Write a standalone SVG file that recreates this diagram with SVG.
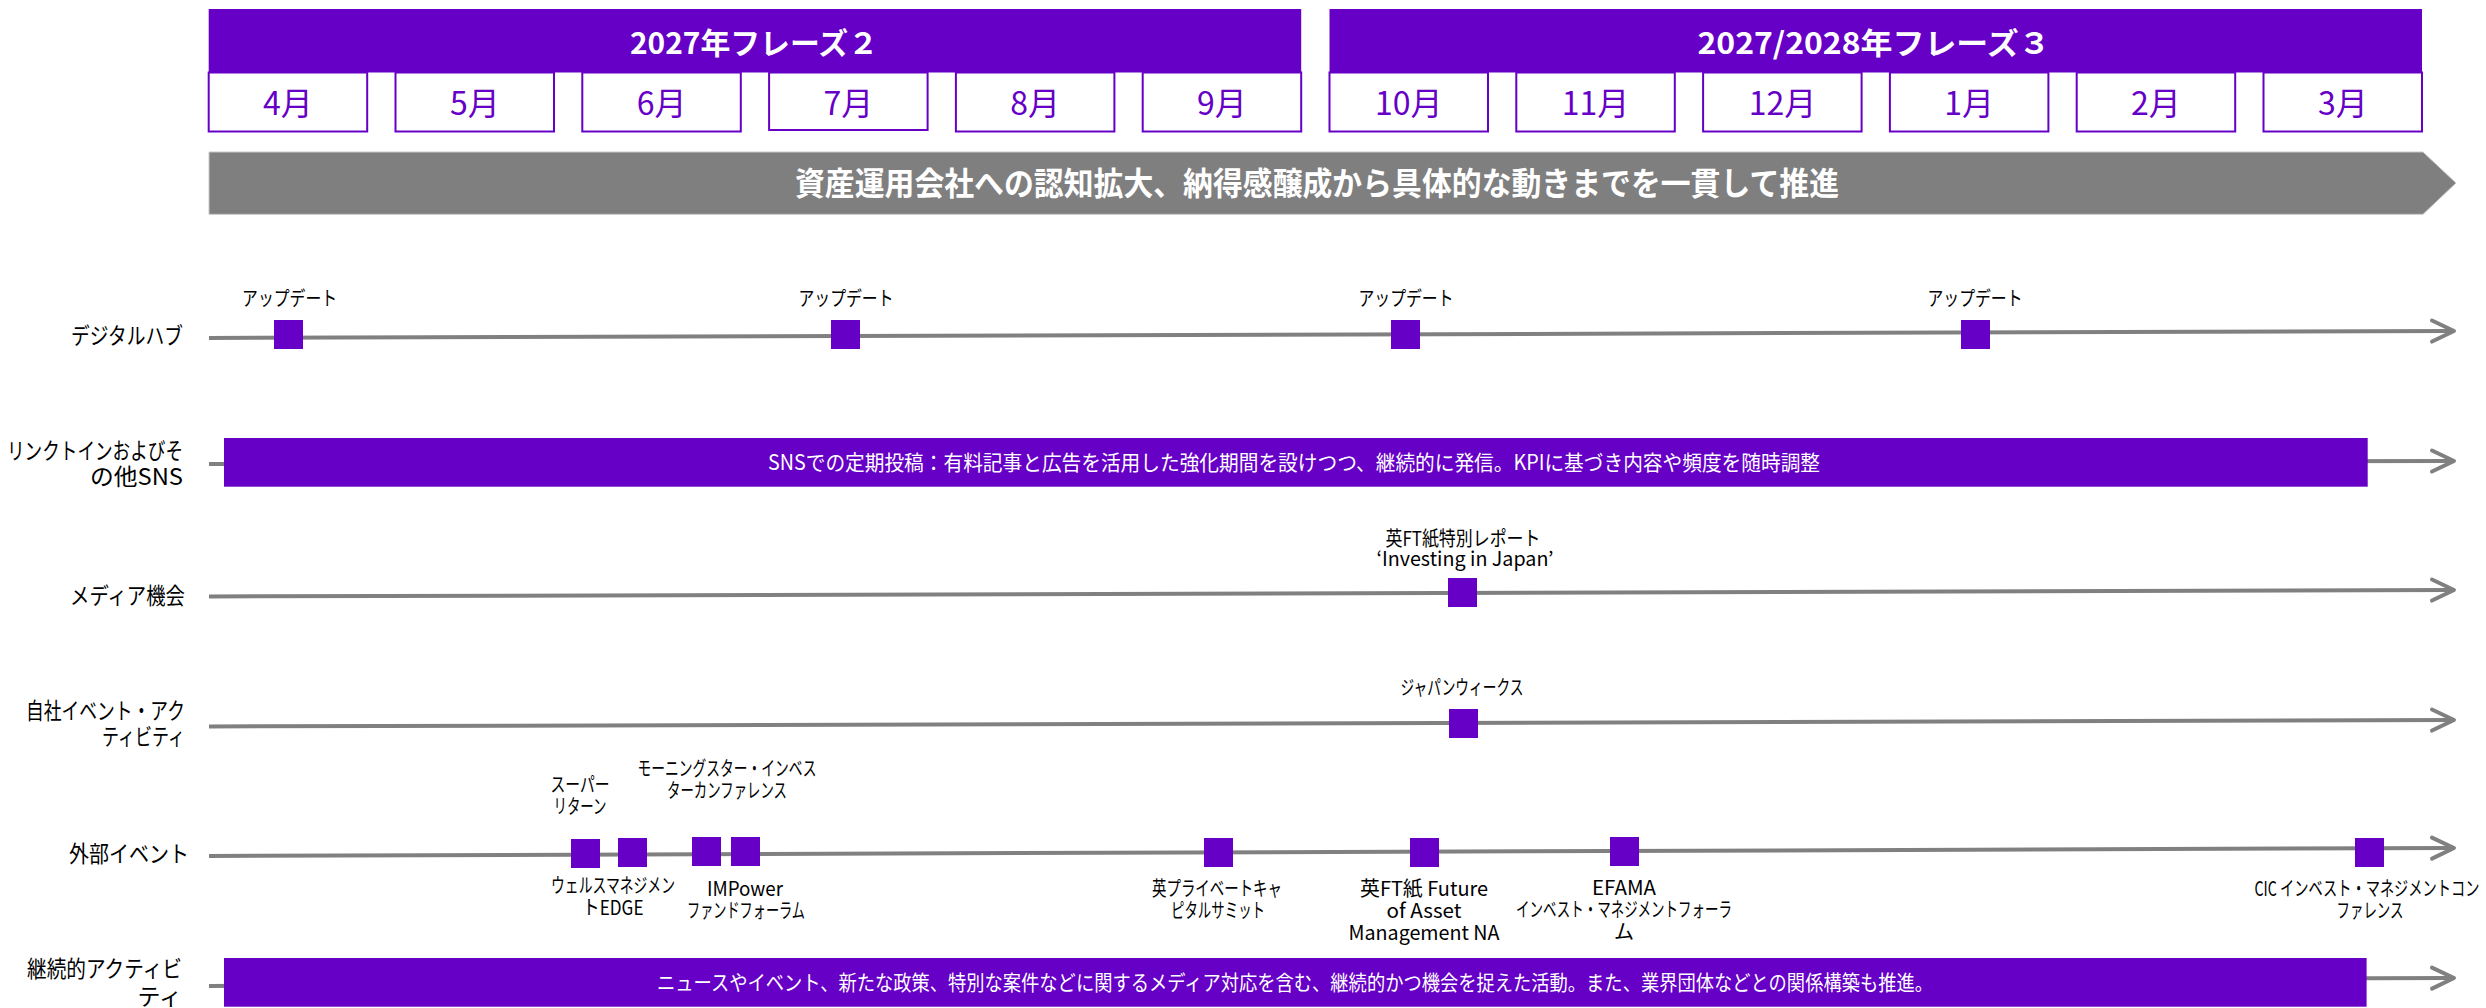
<svg xmlns="http://www.w3.org/2000/svg" width="2486" height="1008" viewBox="0 0 2486 1008">
<style>
text{font-family:"Noto Sans CJK JP","Noto Sans",sans-serif;}
.hdr{fill:#6600c6;}
.hdrt{fill:#ffffff;font-size:30px;font-weight:bold;text-anchor:middle;}
.mbox{fill:#ffffff;stroke:#6600c6;stroke-width:2;}
.mt{fill:#6600c6;font-size:32px;text-anchor:middle;}
.ban{fill:#7f7f7f;stroke:#c8c8c8;stroke-width:1;}
.bant{fill:#ffffff;font-size:32px;font-weight:bold;text-anchor:middle;}
.rl{fill:#000000;font-size:23px;text-anchor:end;}
.ev{fill:#000000;font-size:20px;text-anchor:middle;}
.mk{fill:#6600c6;}
.bar{fill:#6600c6;}
.bart{fill:#ffffff;font-size:21px;text-anchor:middle;}
.tl{fill:none;stroke:#808080;stroke-width:4;marker-end:url(#arr);}
</style>
<defs>
<marker id="arr" markerUnits="userSpaceOnUse" markerWidth="30" markerHeight="30" viewBox="0 0 30 30" refX="25" refY="15" orient="auto">
<path d="M4,4.5 L26,15 L4,25.5" fill="none" stroke="#808080" stroke-width="4" stroke-linejoin="round" stroke-linecap="round"/>
</marker>
</defs>
<rect width="2486" height="1008" fill="#ffffff"/>

<g id="months">
<g id="m4"><rect class="mbox" x="208.7" y="72.5" width="158.5" height="59"/><text class="mt" x="288" y="115">4月</text></g>
<g id="m5"><rect class="mbox" x="395.5" y="72.5" width="158.5" height="59"/><text class="mt" x="474.8" y="115">5月</text></g>
<g id="m6"><rect class="mbox" x="582.3" y="72.5" width="158.5" height="59"/><text class="mt" x="661.6" y="115">6月</text></g>
<g id="m7"><rect class="mbox" x="769.1" y="72.5" width="158.5" height="57.5"/><text class="mt" x="848.4" y="115">7月</text></g>
<g id="m8"><rect class="mbox" x="955.9" y="72.5" width="158.5" height="59"/><text class="mt" x="1035.2" y="115">8月</text></g>
<g id="m9"><rect class="mbox" x="1142.7" y="72.5" width="158.5" height="59"/><text class="mt" x="1222" y="115">9月</text></g>
<g id="m10"><rect class="mbox" x="1329.5" y="72.5" width="158.5" height="59"/><text class="mt" x="1408.8" y="115">10月</text></g>
<g id="m11"><rect class="mbox" x="1516.3" y="72.5" width="158.5" height="59"/><text class="mt" x="1595.6" y="115">11月</text></g>
<g id="m12"><rect class="mbox" x="1703.1" y="72.5" width="158.5" height="59"/><text class="mt" x="1782.4" y="115">12月</text></g>
<g id="m1"><rect class="mbox" x="1889.9" y="72.5" width="158.5" height="59"/><text class="mt" x="1969.2" y="115">1月</text></g>
<g id="m2"><rect class="mbox" x="2076.7" y="72.5" width="158.5" height="59"/><text class="mt" x="2156" y="115">2月</text></g>
<g id="m3"><rect class="mbox" x="2263.5" y="72.5" width="158.5" height="59"/><text class="mt" x="2342.8" y="115">3月</text></g>
</g>

<g id="phase2"><rect class="hdr" x="208.7" y="9" width="1092.5" height="63.5"/><text class="hdrt" x="754" y="54" textLength="248" lengthAdjust="spacingAndGlyphs">2027年フレーズ２</text></g>
<g id="phase3"><rect class="hdr" x="1329.5" y="9" width="1092.5" height="63.5"/><text class="hdrt" x="1874" y="54" textLength="353" lengthAdjust="spacingAndGlyphs">2027/2028年フレーズ３</text></g>

<g id="banner"><polygon class="ban" points="209,152 2423,152 2456,183 2423,214.3 209,214.3"/><text class="bant" x="1317" y="195" textLength="1044" lengthAdjust="spacingAndGlyphs">資産運用会社への認知拡大、納得感醸成から具体的な動きまでを一貫して推進</text></g>

<g id="connectors">
<path class="tl" d="M209,338 L2453,331"/>
<path class="tl" d="M209,464 L2453,461"/>
<path class="tl" d="M209,596.5 L2453,590"/>
<path class="tl" d="M209,726.5 L2453,720"/>
<path class="tl" d="M209,856 L2453,848"/>
<path class="tl" d="M209,986 L2453,978"/>
</g>

<g id="row-labels">
<text class="rl" x="183" y="344" textLength="112" lengthAdjust="spacingAndGlyphs">デジタルハブ</text>
<text class="rl" x="183" y="459" textLength="176" lengthAdjust="spacingAndGlyphs">リンクトインおよびそ</text>
<text class="rl" x="183" y="485" textLength="93" lengthAdjust="spacingAndGlyphs">の他SNS</text>
<text class="rl" x="185" y="604" textLength="115" lengthAdjust="spacingAndGlyphs">メディア機会</text>
<text class="rl" x="185" y="719" textLength="159" lengthAdjust="spacingAndGlyphs">自社イベント・アク</text>
<text class="rl" x="185" y="745" textLength="83" lengthAdjust="spacingAndGlyphs">ティビティ</text>
<text class="rl" x="189" y="862" textLength="120" lengthAdjust="spacingAndGlyphs">外部イベント</text>
<text class="rl" x="182" y="977" textLength="155" lengthAdjust="spacingAndGlyphs">継続的アクティビ</text>
<text class="rl" x="182" y="1005">ティ</text>
</g>

<g id="dh-update1"><rect class="mk" x="274" y="320" width="29" height="29"/><text class="ev" x="289.6" y="306" textLength="95" lengthAdjust="spacingAndGlyphs">アップデート</text></g>
<g id="dh-update2"><rect class="mk" x="831" y="320" width="29" height="29"/><text class="ev" x="846" y="306" textLength="95" lengthAdjust="spacingAndGlyphs">アップデート</text></g>
<g id="dh-update3"><rect class="mk" x="1391" y="320" width="29" height="29"/><text class="ev" x="1406" y="306" textLength="95" lengthAdjust="spacingAndGlyphs">アップデート</text></g>
<g id="dh-update4"><rect class="mk" x="1961" y="320" width="29" height="29"/><text class="ev" x="1975" y="306" textLength="95" lengthAdjust="spacingAndGlyphs">アップデート</text></g>

<g id="sns-bar"><rect class="bar" x="224" y="438" width="2143.7" height="48.7"/><text class="bart" x="1294" y="470" textLength="1052" lengthAdjust="spacingAndGlyphs">SNSでの定期投稿：有料記事と広告を活用した強化期間を設けつつ、継続的に発信。KPIに基づき内容や頻度を随時調整</text></g>

<g id="ft-report"><rect class="mk" x="1448" y="578" width="29" height="29"/>
<text class="ev" x="1463" y="546" textLength="155" lengthAdjust="spacingAndGlyphs">英FT紙特別レポート</text>
<text class="ev" x="1465" y="566" textLength="177" lengthAdjust="spacingAndGlyphs">‘Investing in Japan’</text></g>

<g id="japan-weeks"><rect class="mk" x="1449" y="709" width="29" height="29"/><text class="ev" x="1462" y="695" textLength="123" lengthAdjust="spacingAndGlyphs">ジャパンウィークス</text></g>

<g id="super-return"><rect class="mk" x="571" y="839" width="29" height="29"/>
<text class="ev" x="580" y="792" textLength="59" lengthAdjust="spacingAndGlyphs">スーパー</text>
<text class="ev" x="580" y="814" textLength="53" lengthAdjust="spacingAndGlyphs">リターン</text></g>
<g id="wealth-edge"><rect class="mk" x="618" y="838" width="29" height="29"/>
<text class="ev" x="613" y="893" textLength="124" lengthAdjust="spacingAndGlyphs">ウェルスマネジメン</text>
<text class="ev" x="613" y="915" textLength="61" lengthAdjust="spacingAndGlyphs">トEDGE</text></g>
<g id="morningstar"><rect class="mk" x="692" y="837" width="29" height="29"/>
<text class="ev" x="727" y="776" textLength="179" lengthAdjust="spacingAndGlyphs">モーニングスター・インベス</text>
<text class="ev" x="727" y="798" textLength="120" lengthAdjust="spacingAndGlyphs">ターカンファレンス</text></g>
<g id="impower"><rect class="mk" x="731" y="837" width="29" height="29"/>
<text class="ev" x="745" y="896" textLength="76" lengthAdjust="spacingAndGlyphs">IMPower</text>
<text class="ev" x="746" y="918" textLength="118" lengthAdjust="spacingAndGlyphs">ファンドフォーラム</text></g>
<g id="private-capital"><rect class="mk" x="1204" y="838" width="29" height="29"/>
<text class="ev" x="1217" y="896" textLength="130" lengthAdjust="spacingAndGlyphs">英プライベートキャ</text>
<text class="ev" x="1218" y="918" textLength="94" lengthAdjust="spacingAndGlyphs">ピタルサミット</text></g>
<g id="ft-future"><rect class="mk" x="1410" y="838" width="29" height="29"/>
<text class="ev" x="1424" y="896" textLength="128" lengthAdjust="spacingAndGlyphs">英FT紙 Future</text>
<text class="ev" x="1424" y="918" textLength="75" lengthAdjust="spacingAndGlyphs">of Asset</text>
<text class="ev" x="1424" y="940" textLength="151" lengthAdjust="spacingAndGlyphs">Management NA</text></g>
<g id="efama"><rect class="mk" x="1610" y="837" width="29" height="29"/>
<text class="ev" x="1624" y="895" textLength="64" lengthAdjust="spacingAndGlyphs">EFAMA</text>
<text class="ev" x="1624" y="917" textLength="216" lengthAdjust="spacingAndGlyphs">インベスト・マネジメントフォーラ</text>
<text class="ev" x="1624" y="939">ム</text></g>
<g id="cic"><rect class="mk" x="2355" y="838" width="29" height="29"/>
<text class="ev" x="2367" y="896" textLength="225" lengthAdjust="spacingAndGlyphs">CIC インベスト・マネジメントコン</text>
<text class="ev" x="2370" y="918" textLength="67" lengthAdjust="spacingAndGlyphs">ファレンス</text></g>

<g id="ongoing-bar"><rect class="bar" x="224" y="958" width="2142.6" height="48.7"/><text class="bart" x="1295" y="990" textLength="1276" lengthAdjust="spacingAndGlyphs">ニュースやイベント、新たな政策、特別な案件などに関するメディア対応を含む、継続的かつ機会を捉えた活動。また、業界団体などとの関係構築も推進。</text></g>
</svg>
